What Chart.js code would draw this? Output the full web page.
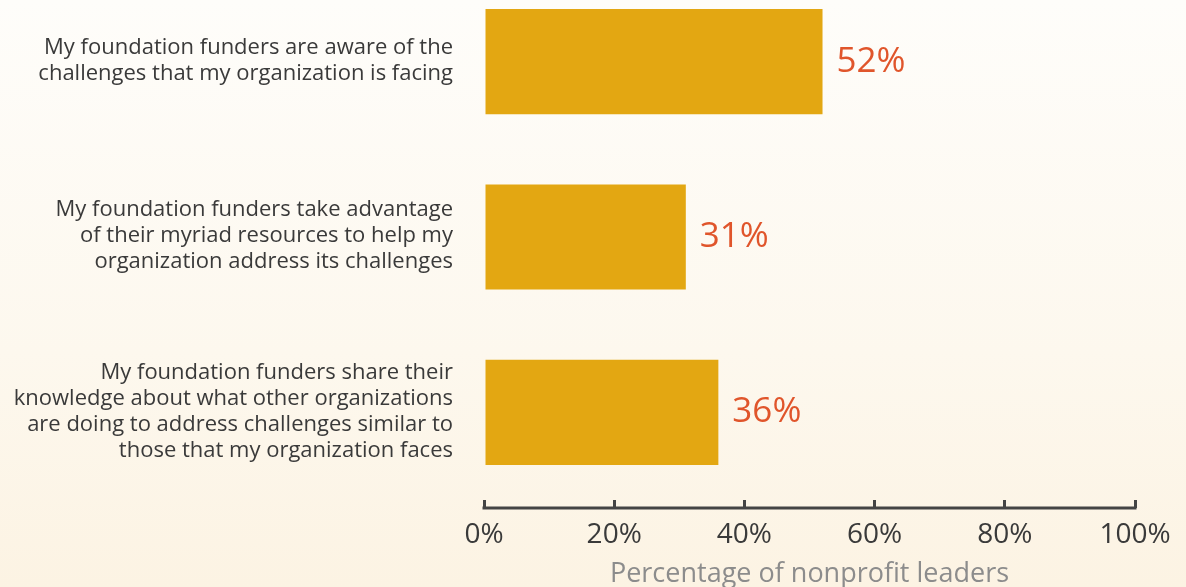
<!DOCTYPE html>
<html>
<head>
<meta charset="utf-8">
<script src="https://cdn.jsdelivr.net/npm/chart.js@4/dist/chart.umd.min.js"></script>
<style>
  html, body { margin: 0; padding: 0; overflow: hidden; }
  body { width: 1186px; height: 587px; background: linear-gradient(to bottom, #FEFDFA 0%, #FDF8EE 60%, #FCF3E3 100%); }
  #wrap { position: relative; width: 1186px; height: 587px; overflow: hidden; }
  #c { position: absolute; left: 0; top: -26px; }
</style>
</head>
<body>
<div id="wrap"><canvas id="c" width="1186" height="617"></canvas></div>
<script>
const categories = [
  ["My foundation funders are aware of the", "challenges that my organization is facing"],
  ["My foundation funders take advantage", "of their myriad resources to help my", "organization address its challenges"],
  ["My foundation funders share their", "knowledge about what other organizations", "are doing to address challenges similar to", "those that my organization faces"]
];
const values = [52, 31, 36];
const tickValues = [0, 20, 40, 60, 80, 100];
const axisTitle = "Percentage of nonprofit leaders";

const FONT = "'Open Sans', 'Noto Sans', sans-serif";

const categoryLabels = {
  id: 'categoryLabels',
  afterDraw(chart) {
    const ys = chart.scales.y;
    const ctx = chart.ctx;
    const lh = 26;
    ctx.save();
    ctx.font = "22px " + FONT;
    ctx.fillStyle = "#3A3A3A";
    ctx.textAlign = "right";
    ctx.textBaseline = "middle";
    categories.forEach((lines, i) => {
      const cy = ys.getPixelForValue(i) - 1;
      const y0 = cy - (lines.length - 1) * lh / 2;
      lines.forEach((t, k) => ctx.fillText(t, ys.right - 31, y0 + k * lh));
    });
    ctx.restore();
  }
};

const valueLabels = {
  id: 'valueLabels',
  afterDatasetsDraw(chart) {
    const ctx = chart.ctx;
    const meta = chart.getDatasetMeta(0);
    ctx.save();
    ctx.font = "35px " + FONT;
    ctx.fillStyle = "#E0552B";
    ctx.textAlign = "left";
    ctx.textBaseline = "middle";
    meta.data.forEach((bar, i) => {
      ctx.fillText(values[i] + "%", bar.x + 14, bar.y);
    });
    ctx.restore();
  }
};

const axisLine = {
  id: 'axisLine',
  afterDraw(chart) {
    const x = chart.scales.x;
    const ctx = chart.ctx;
    const y = x.top + 8;
    ctx.save();
    ctx.strokeStyle = "#444444";
    ctx.lineWidth = 3;
    ctx.beginPath();
    ctx.moveTo(x.getPixelForValue(0) - 1.5, y);
    ctx.lineTo(x.getPixelForValue(100) + 1.5, y);
    ctx.stroke();
    ctx.restore();
  }
};

new Chart(document.getElementById('c'), {
  type: 'bar',
  data: {
    labels: categories,
    datasets: [{
      data: values,
      backgroundColor: "#E3A712",
      borderWidth: 0,
      barPercentage: 0.6,
      categoryPercentage: 1.0
    }]
  },
  options: {
    indexAxis: 'y',
    responsive: false,
    animation: false,
    events: [],
    layout: { padding: { top: 0, right: 51, bottom: 0, left: 0 } },
    plugins: { legend: { display: false }, tooltip: { enabled: false } },
    scales: {
      x: {
        min: 0, max: 100,
        afterBuildTicks(scale) { scale.ticks = tickValues.map(v => ({ value: v })); },
        border: { display: false },
        grid: { display: true, drawOnChartArea: false, drawTicks: true, tickLength: 8, color: "#444444", lineWidth: 3 },
        ticks: {
          padding: 10,
          color: "#3A3A3A",
          font: { family: FONT, size: 28, lineHeight: 1.2 },
          callback: v => v + "%",
          maxRotation: 0
        },
        title: {
          display: true,
          text: axisTitle,
          color: "#8C8C8C",
          font: { family: FONT, size: 27, lineHeight: 1.2 },
          padding: { top: -3, bottom: 0 }
        }
      },
      y: {
        afterFit(scale) { scale.width = 484; },
        border: { display: false },
        grid: { display: false, drawTicks: false },
        ticks: { display: false }
      }
    }
  },
  plugins: [valueLabels, axisLine, categoryLabels]
});
</script>
</body>
</html>
